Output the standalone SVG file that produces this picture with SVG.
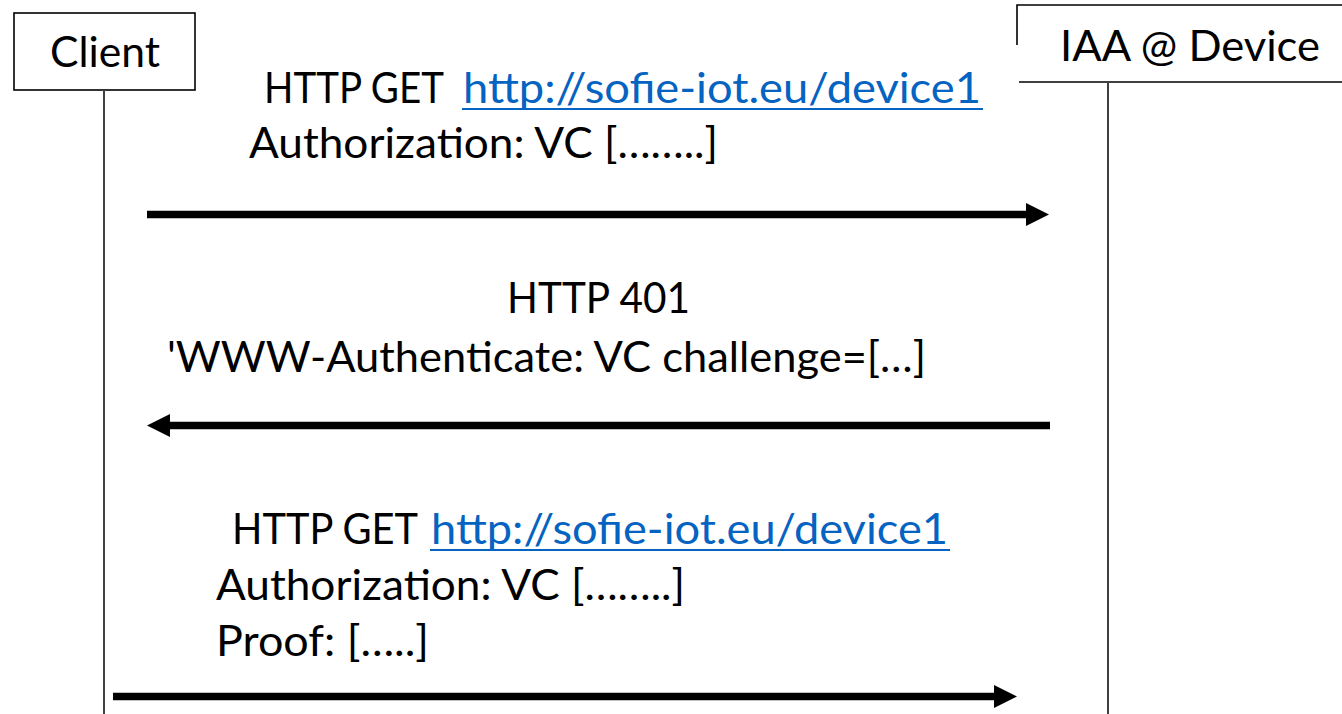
<svg xmlns="http://www.w3.org/2000/svg" width="1342" height="714" viewBox="0 0 1342 714">
<style>
.t{font-family:Lato,"Open Sans","Liberation Sans",sans-serif;font-size:43px;fill:#000}
.l{fill:#0563C1}
.u{stroke:#0563C1;stroke-width:2.2}
.box{fill:#fff;stroke:#000;stroke-width:1.6}
.life{stroke:#404040;stroke-width:2;fill:none}
.msg{stroke:#000;stroke-width:7.5;fill:none}
</style>
<defs>
<marker id="ah" markerUnits="userSpaceOnUse" markerWidth="24" markerHeight="24" refX="1" refY="11.5" orient="auto" viewBox="0 0 24 23">
<path d="M0,0 L23,11.5 L0,23 z" fill="#000"/>
</marker>
</defs>
<g id="client">
<rect class="box" x="14" y="13" width="181" height="77"/>
<text class="t" x="50" y="67" textLength="110" lengthAdjust="spacingAndGlyphs">Client</text>
<line class="life" x1="104" y1="90" x2="104" y2="714"/>
</g>
<g id="device">
<rect x="1017" y="5" width="330" height="77" fill="#fff"/>
<path d="M1342,5 H1017 V45" fill="none" stroke="#000" stroke-width="1.6"/>
<path d="M1019,82 H1342" fill="none" stroke="#000" stroke-width="1.6"/>
<text class="t" x="1060" y="61" textLength="260" lengthAdjust="spacingAndGlyphs">IAA @ Device</text>
<line class="life" x1="1108" y1="82" x2="1108" y2="714"/>
</g>
<g id="connectors">
<line class="msg" x1="147" y1="214.5" x2="1027" y2="214.5" marker-end="url(#ah)"/>
<line class="msg" x1="1050" y1="425.5" x2="169" y2="425.5" marker-end="url(#ah)"/>
<line class="msg" x1="113" y1="696.5" x2="995" y2="696.5" marker-end="url(#ah)"/>
</g>
<g id="msg1">
<text class="t" x="264" y="103" textLength="180" lengthAdjust="spacingAndGlyphs">HTTP GET</text>
<text class="t l" x="463" y="103" textLength="518" lengthAdjust="spacingAndGlyphs">http://sofie-iot.eu/device1</text>
<line class="u" x1="462" y1="109" x2="983" y2="109"/>
<text class="t" x="249" y="158" textLength="469" lengthAdjust="spacingAndGlyphs">Authorization: VC [……..]</text>
</g>
<g id="msg2">
<text class="t" x="507" y="313" textLength="183" lengthAdjust="spacingAndGlyphs">HTTP 401</text>
<text class="t" x="167" y="372" textLength="759" lengthAdjust="spacingAndGlyphs">'WWW-Authenticate: VC challenge=[…]</text>
</g>
<g id="msg3">
<text class="t" x="232" y="544" textLength="186" lengthAdjust="spacingAndGlyphs">HTTP GET</text>
<text class="t l" x="431" y="544" textLength="517" lengthAdjust="spacingAndGlyphs">http://sofie-iot.eu/device1</text>
<line class="u" x1="430" y1="550" x2="950" y2="550"/>
<text class="t" x="216" y="600" textLength="469" lengthAdjust="spacingAndGlyphs">Authorization: VC [……..]</text>
<text class="t" x="216" y="656" textLength="213" lengthAdjust="spacingAndGlyphs">Proof: […..]</text>
</g>
</svg>
